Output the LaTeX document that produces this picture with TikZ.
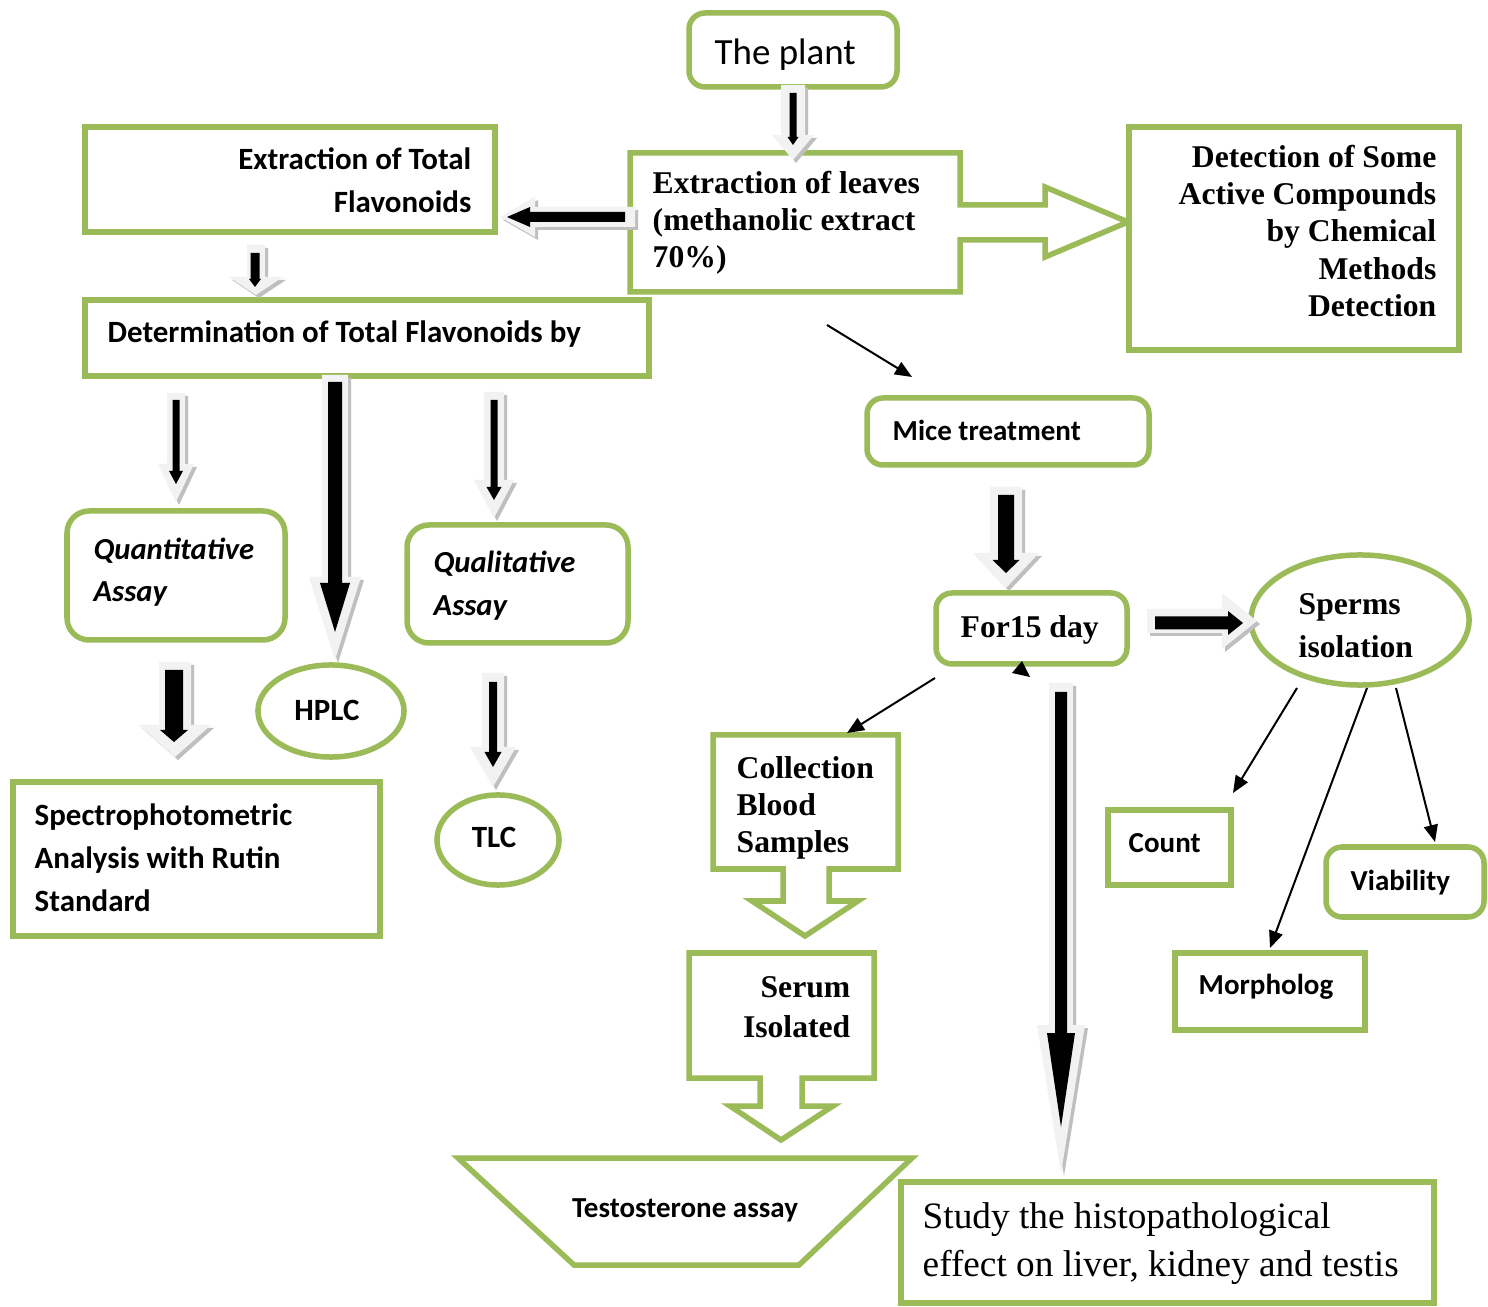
\documentclass[tikz,border=0pt]{standalone}
\usepackage{fontspec}
\setmainfont{Liberation Serif}
\newfontfamily\calfont{Carlito}
\usetikzlibrary{arrows.meta,shapes.geometric}
\definecolor{grn}{HTML}{9BBB59}
\definecolor{agray}{HTML}{F2F2F2}
\definecolor{sgray}{HTML}{BFBFBF}
% vertical down block arrow: style, x, ytop, ytip, shaft half width, head half width, head length
\newcommand\vdarrow[7]{\fill[#1] ({#2-(#5)},{#3}) -- ({#2+(#5)},{#3}) -- ({#2+(#5)},{#4-(#7)}) -- ({#2+(#6)},{#4-(#7)}) -- ({#2},{#4}) -- ({#2-(#6)},{#4-(#7)}) -- ({#2-(#5)},{#4-(#7)}) -- cycle;}
% horizontal block arrow: style, y, xstart, xtip, shaft half width, head half width, signed head length
\newcommand\hzarrow[7]{\fill[#1] ({#3},{#2-(#5)}) -- ({#3},{#2+(#5)}) -- ({#4-(#7)},{#2+(#5)}) -- ({#4-(#7)},{#2+(#6)}) -- ({#4},{#2}) -- ({#4-(#7)},{#2-(#6)}) -- ({#4-(#7)},{#2-(#5)}) -- cycle;}
% box node: style, name, x1, y1, x2, y2
\newcommand\gnode[6]{\node[#1, minimum width={(#5-#3)*0.01cm}, minimum height={(#6-#4)*0.01cm}] (#2) at ({(#3+#5)/2},{(#4+#6)/2}) {};}
\tikzset{
  gline/.style={draw=grn, line width=0.055cm, fill=white},
  gbox/.style={gline, rectangle, inner sep=0pt, outer sep=0pt},
  rbox/.style={gbox, rounded corners=0.16cm},
  rrbox/.style={gbox, rounded corners=0.22cm},
  gell/.style={gline, ellipse, inner sep=0pt, outer sep=0pt},
  txt/.style={inner sep=0pt, yshift=-0.025cm},
  calA/.style={txt, font=\calfont\bfseries\fontsize{8.8}{12.2}\selectfont},
  calI/.style={txt, font=\calfont\bfseries\itshape\fontsize{8.7}{12.0}\selectfont},
  calB/.style={txt, font=\calfont\bfseries\fontsize{8.25}{12}\selectfont},
  timB/.style={txt, font=\bfseries\fontsize{9}{10.45}\selectfont},
  tarrow/.style={draw=black, line width=0.02cm, -{Triangle[length=0.17cm,width=0.14cm]}},
  shad/.style={sgray, shift={(3,3)}},
  outer/.style={agray},
  inner/.style={black}
}
\begin{document}
\begin{tikzpicture}[x=0.01cm, y=-0.01cm, line join=miter]
\useasboundingbox (0,0) rectangle (1488,1307);
\fill[white] (0,0) rectangle (1488,1307);

% ---------- boxes ----------
\gnode{rbox}{plant}{689}{13}{897}{87}
\gnode{gbox}{exttot}{85}{127}{495}{232}
\draw[gline] (630,153) -- (960,153) -- (960,205) -- (1045,205) -- (1045,187) -- (1128,222)
  -- (1045,257) -- (1045,240) -- (960,240) -- (960,292) -- (630,292) -- cycle;
\coordinate (leaves) at (795,222);
\gnode{gbox}{detect}{1129}{127}{1459}{350}
\gnode{gbox}{determ}{85}{300}{649}{376}
\gnode{rrbox}{quant}{67}{511}{285}{640}
\gnode{rrbox}{qual}{407}{525}{628}{643}
\node[gell, minimum width=1.46cm, minimum height=0.92cm] (hplc) at (331,711) {};
\node[gell, minimum width=1.22cm, minimum height=0.90cm] (tlc) at (498,840) {};
\gnode{gbox}{spectro}{13}{782}{380}{936}
\gnode{rbox}{mice}{867}{398}{1149}{465}
\gnode{rbox}{forday}{936}{593}{1127}{664}
\node[gell, minimum width=2.18cm, minimum height=1.30cm] (sperms) at (1360,620) {};
\gnode{gbox}{count}{1108}{810}{1231}{885}
\gnode{rbox}{viab}{1326}{847}{1484}{917}
\gnode{gbox}{morph}{1175}{953}{1365}{1030}
\draw[gline] (713,735) -- (898,735) -- (898,869) -- (829,869) -- (829,901) -- (858,901) -- (805,936)
  -- (752,901) -- (783,901) -- (783,869) -- (713,869) -- cycle;
\coordinate (collect) at (805,800);
\draw[gline] (689,953) -- (874,953) -- (874,1078) -- (802,1078) -- (802,1106) -- (833,1106) -- (781,1140)
  -- (730,1106) -- (760,1106) -- (760,1078) -- (689,1078) -- cycle;
\coordinate (serum) at (781,1015);
\draw[gline] (458,1158) -- (912,1158) -- (799,1265) -- (574,1265) -- cycle;
\coordinate (testo) at (685,1200);
\gnode{gbox}{study}{901}{1182}{1434}{1303}

% ---------- texts (base anchor = baseline of last line) ----------
\node[txt, font=\calfont\fontsize{10.5}{12}\selectfont, anchor=base west] (tplant) at (714,62) {The plant};
\node[calA, anchor=base east, align=right] (texttot) at (472,210) {Extraction of Total\\Flavonoids};
\node[timB, anchor=base west, align=left] (tleaves) at (652,265) {Extraction of leaves\\(methanolic extract\\70\%)};
\node[timB, anchor=base east, align=right, font=\bfseries\fontsize{9}{10.6}\selectfont] (tdetect) at (1437,314) {Detection of Some\\Active Compounds\\by Chemical\\Methods\\Detection};
\node[calA, anchor=base west] (tdeterm) at (107,340) {Determination of Total Flavonoids by};
\node[calI, anchor=base west, align=left] (tquant) at (93,599) {Quantitative\\Assay};
\node[calI, anchor=base west, align=left, font=\calfont\bfseries\itshape\fontsize{8.7}{12.2}\selectfont] (tqual) at (433,613) {Qualitative\\Assay};
\node[calA, anchor=base] (thplc) at (327,718) {HPLC};
\node[calA, anchor=base] (ttlc) at (494,845) {TLC};
\node[calA, anchor=base west, align=left] (tspectro) at (34,909) {Spectrophotometric\\Analysis with Rutin\\Standard};
\node[calB, anchor=base west] (tmice) at (892,438) {Mice treatment};
\node[timB, anchor=base west] (tforday) at (960,635) {For15 day};
\node[timB, anchor=base west, align=left, font=\bfseries\fontsize{9}{12.2}\selectfont] (tsperms) at (1298,655) {Sperms\\isolation};
\node[calB, anchor=base west] (tcount) at (1128,850) {Count};
\node[calB, anchor=base west] (tviab) at (1350,888) {Viability};
\node[calB, anchor=base west] (tmorph) at (1198,992) {Morpholog};
\node[timB, anchor=base west, align=left, font=\bfseries\fontsize{9}{10.5}\selectfont] (tcollect) at (736,850) {Collection\\Blood\\Samples};
\node[timB, anchor=base east, align=right, font=\bfseries\fontsize{9}{11.4}\selectfont] (tserum) at (851,1035) {Serum\\Isolated};
\node[calB, anchor=base] (ttesto) at (685,1215) {Testosterone assay};
\node[txt, font=\fontsize{10.6}{13.66}\selectfont, anchor=base west, align=left] (tstudy) at (922,1274) {Study the histopathological\\effect on liver, kidney and testis};

% ---------- block arrows ----------
% plant -> leaves
\vdarrow{shad}{793}{85}{160}{12}{21}{25}
\vdarrow{outer}{793}{85}{160}{12}{21}{25}
\vdarrow{inner}{793}{93}{145}{3.5}{5.5}{8}
% leaves -> extraction of total
\hzarrow{shad}{217}{635}{500}{10}{20}{-35}
\hzarrow{outer}{217}{635}{500}{10}{20}{-35}
\hzarrow{inner}{217}{625}{507}{5}{10}{-23}
% extraction of total -> determination
\vdarrow{shad}{256}{245}{295}{9}{27}{18}
\vdarrow{outer}{256}{245}{295}{9}{27}{18}
\vdarrow{inner}{255}{253}{287}{4.5}{6}{8}
% determination -> quantitative
\vdarrow{shad}{176}{393}{502}{9}{18}{38}
\vdarrow{outer}{176}{393}{502}{9}{18}{38}
\vdarrow{inner}{176}{400}{484}{3.5}{7}{13}
% determination -> HPLC
\vdarrow{shad}{335}{375}{660}{13}{26}{83}
\vdarrow{outer}{335}{375}{660}{13}{26}{83}
\vdarrow{inner}{335}{382}{632}{7}{15}{49}
% determination -> qualitative
\vdarrow{shad}{494}{392}{518}{10}{20}{38}
\vdarrow{outer}{494}{392}{518}{10}{20}{38}
\vdarrow{inner}{494}{400}{500}{3.5}{7.5}{13}
% quantitative -> spectrophotometric
\vdarrow{shad}{175}{662}{757}{16}{36}{32}
\vdarrow{outer}{175}{662}{757}{16}{36}{32}
\vdarrow{inner}{174}{670}{742}{9}{14}{12}
% qualitative -> TLC
\vdarrow{shad}{493}{673}{787}{11}{23}{40}
\vdarrow{outer}{493}{673}{787}{11}{23}{40}
\vdarrow{inner}{493}{682}{767}{4}{8.5}{15}
% mice -> for15 day
\vdarrow{shad}{1006}{487}{588}{16}{33}{35}
\vdarrow{outer}{1006}{487}{588}{16}{33}{35}
\vdarrow{inner}{1006}{495}{573}{8}{13.5}{13}
% for15 day -> sperms
\hzarrow{shad}{621}{1147}{1257}{12}{28}{35}
\hzarrow{outer}{621}{1147}{1257}{12}{28}{35}
\hzarrow{inner}{623}{1155}{1243}{6.5}{12}{15}
% for15 day -> study
\vdarrow{shad}{1061}{683}{1173}{12}{24}{148}
\vdarrow{outer}{1061}{683}{1173}{12}{24}{148}
\vdarrow{inner}{1061}{692}{1127}{6}{14}{94}

% ---------- thin arrows ----------
\coordinate (m1) at (827,325); \coordinate (m2) at (912,377);
\draw[tarrow] (m1) -- (m2);
\coordinate (c1) at (935,678); \coordinate (c2) at (847,733);
\draw[tarrow] (c1) -- (c2);
\coordinate (s1) at (1297,688); \coordinate (s2) at (1233,793);
\draw[tarrow] (s1) -- (s2);
\coordinate (s3) at (1367,688); \coordinate (s4) at (1270,948);
\draw[tarrow] (s3) -- (s4);
\coordinate (s5) at (1396,688); \coordinate (s6) at (1435,842);
\draw[tarrow] (s5) -- (s6);
% stray arrowhead under For15 day
\fill[black] (1022,661) -- (1012,673) -- (1030,677) -- cycle;
\end{tikzpicture}
\end{document}
